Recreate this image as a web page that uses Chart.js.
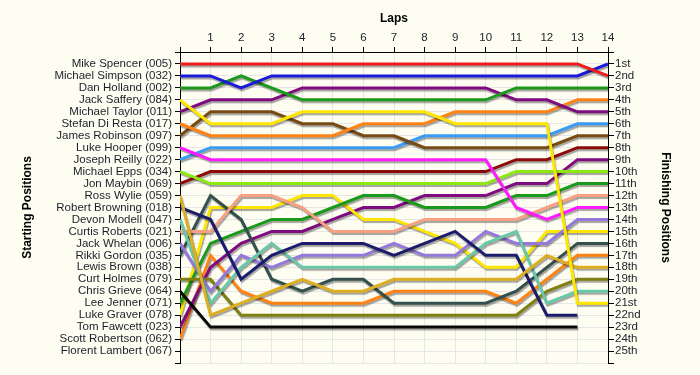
<!DOCTYPE html>
<html>
<head>
<meta charset="utf-8">
<script src="https://cdn.jsdelivr.net/npm/chart.js@4"></script>
<style>
  body { margin: 0; background: #fdfdf2; }
  #wrap { width: 700px; height: 375px; }
</style>
</head>
<body>
<div id="wrap"><canvas id="chart" width="700" height="375"></canvas></div>
<script>
const laps = [0, 1, 2, 3, 4, 5, 6, 7, 8, 9, 10, 11, 12, 13, 14];

// grid order = left axis labels
const startNames = [
  'Mike Spencer (005)', 'Michael Simpson (032)', 'Dan Holland (002)', 'Jack Saffery (084)',
  'Michael Taylor (011)', 'Stefan Di Resta (017)', 'James Robinson (097)', 'Luke Hooper (099)',
  'Joseph Reilly (022)', 'Michael Epps (034)', 'Jon Maybin (069)', 'Ross Wylie (059)',
  'Robert Browning (018)', 'Devon Modell (047)', 'Curtis Roberts (021)', 'Jack Whelan (006)',
  'Rikki Gordon (035)', 'Lewis Brown (038)', 'Curt Holmes (079)', 'Chris Grieve (064)',
  'Lee Jenner (071)', 'Luke Graver (078)', 'Tom Fawcett (023)', 'Scott Robertson (062)',
  'Florent Lambert (067)'
];

const finishLabels = [
  '1st', '2nd', '3rd', '4th', '5th', '6th', '7th', '8th', '9th', '10th', '11th', '12th', '13th',
  '14th', '15th', '16th', '17th', '18th', '19th', '20th', '21st', '22nd', '23rd', '24th', '25th'
];

// position per lap (lap 0 = grid)
const spencer   = [1, 1, 1, 1, 1, 1, 1, 1, 1, 1, 1, 1, 1, 1, 2];
const simpson   = [2, 2, 3, 2, 2, 2, 2, 2, 2, 2, 2, 2, 2, 2, 1];
const holland   = [3, 3, 2, 3, 4, 4, 4, 4, 4, 4, 4, 3, 3, 3, 3];
const saffery   = [4, 6, 6, 6, 5, 5, 5, 5, 5, 6, 6, 6, 6, 21, 21];
const taylor    = [5, 4, 4, 4, 3, 3, 3, 3, 3, 3, 3, 4, 4, 5, 5];
const diResta   = [6, 7, 7, 7, 7, 7, 6, 6, 6, 5, 5, 5, 5, 4, 4];
const robinson  = [7, 5, 5, 5, 6, 6, 7, 7, 8, 8, 8, 8, 8, 7, 7];
const hooper    = [8, 9, 9, 9, 9, 9, 9, 9, 9, 9, 9, 13, 14, 13, 13];
const reilly    = [9, 8, 8, 8, 8, 8, 8, 8, 7, 7, 7, 7, 7, 6, 6];
const epps      = [10, 11, 11, 11, 11, 11, 11, 11, 11, 11, 11, 10, 10, 10, 10];
const maybin    = [11, 10, 10, 10, 10, 10, 10, 10, 10, 10, 10, 9, 9, 8, 8];
const wylie     = [12, 22, 21, 20, 19, 20, 20, 19, 19, 19, 19, 19, 17, 18, 18];
const browning  = [13, 14, 19, 17, 16, 16, 16, 17, 16, 15, 17, 17, 22, 22, null];
const modell    = [14, 21, 18, 16, 18, 18, 18, 18, 18, 18, 16, 15, 21, 20, 20];
const roberts   = [15, 15, 12, 12, 13, 15, 15, 15, 14, 14, 14, 14, 13, 12, 12];
const whelan    = [16, 20, 17, 18, 17, 17, 17, 16, 17, 17, 15, 16, 16, 14, 14];
const gordon    = [17, 12, 14, 19, 20, 19, 19, 21, 21, 21, 21, 20, 18, 16, 16];
const holmes    = [19, 19, 22, 22, 22, 22, 22, 22, 22, 22, 22, 22, 20, 19, 19];
const grieve    = [20, 23, 23, 23, 23, 23, 23, 23, 23, 23, 23, 23, 23, 23, null];
const jenner    = [21, 16, 15, 14, 14, 13, 12, 12, 13, 13, 13, 12, 12, 11, 11];
const graver    = [22, 13, 13, 13, 12, 12, 14, 14, 15, 16, 18, 18, 15, 15, 15];
const fawcett   = [23, 18, 16, 15, 15, 14, 13, 13, 12, 12, 12, 11, 11, 9, 9];
const robertson = [24, 17, 20, 21, 21, 21, 21, 20, 20, 20, 20, 21, 19, 17, 17];

const series = [
  [spencer, '#ee1c1c'], [simpson, '#1a1ad8'], [holland, '#1a9a1a'], [saffery, '#ffe600'],
  [taylor, '#800a80'], [diResta, '#ff8214'], [robinson, '#7a4a14'], [hooper, '#ff1aff'],
  [reilly, '#3a9cf4'], [epps, '#8ce810'], [maybin, '#8c0a0a'], [wylie, '#deae22'],
  [browning, '#1c1c6c'], [modell, '#68c8a8'], [roberts, '#f8a084'], [whelan, '#9478dc'],
  [gordon, '#34504c'], [holmes, '#808010'], [grieve, '#0a0a0a'], [jenner, '#1a9a1a'],
  [graver, '#ffe600'], [fawcett, '#800a80'], [robertson, '#ff8214']
];

const shadow = {
  id: 'shadow',
  beforeDatasetDraw(chart) {
    const ctx = chart.ctx;
    ctx.save();
    ctx.shadowColor = 'rgba(0,0,0,0.35)';
    ctx.shadowOffsetX = 1;
    ctx.shadowOffsetY = 2;
    ctx.shadowBlur = 1;
  },
  afterDatasetDraw(chart) {
    chart.ctx.restore();
  }
};

const txt = '#1e1e2a';
const tickFont = { family: 'Liberation Sans', size: 11.5 };
const titleFont = { family: 'Liberation Sans', size: 12, weight: 'bold' };

new Chart(document.getElementById('chart'), {
  type: 'line',
  data: {
    labels: laps,
    datasets: series.map(s => ({
      data: s[0],
      borderColor: s[1],
      borderWidth: 3,
      pointRadius: 0,
      tension: 0,
      fill: false
    }))
  },
  options: {
    responsive: false,
    animation: false,
    layout: { padding: { left: 0, right: 0, top: 0, bottom: 12 } },
    plugins: { legend: { display: false }, tooltip: { enabled: false } },
    scales: {
      x: {
        type: 'linear',
        position: 'top',
        min: 0,
        max: 14,
        afterFit: s => { s.height = 52; },
        ticks: { stepSize: 1, color: txt, font: tickFont, padding: 2, maxRotation: 0,
                 callback: v => v === 0 ? '' : v },
        grid: { color: '#e6e6e6', tickColor: '#000', tickLength: 5 },
        border: { color: '#000' },
        title: { display: true, text: 'Laps', color: '#000', font: titleFont, padding: { top: 11 } }
      },
      y: {
        type: 'linear',
        position: 'left',
        min: 0,
        max: 26,
        reverse: true,
        afterFit: s => { s.width = 180; },
        ticks: { stepSize: 1, autoSkip: false, color: txt, font: tickFont, padding: 3,
                 callback: v => startNames[v - 1] || '' },
        grid: { color: '#e6e6e6', tickColor: '#000', tickLength: 5 },
        border: { color: '#000' },
        title: { display: true, text: 'Starting Positions', color: '#000', font: titleFont, padding: { top: 20 } }
      },
      y2: {
        type: 'linear',
        position: 'right',
        min: 0,
        max: 26,
        reverse: true,
        afterFit: s => { s.width = 92; },
        ticks: { stepSize: 1, autoSkip: false, color: txt, font: tickFont, padding: 1,
                 callback: v => finishLabels[v - 1] || '' },
        grid: { drawOnChartArea: false, tickColor: '#000', tickLength: 6 },
        border: { color: '#000' },
        title: { display: true, text: 'Finishing Positions', color: '#000', font: titleFont, padding: { top: 27 } }
      }
    }
  },
  plugins: [shadow]
});
</script>
</body>
</html>
